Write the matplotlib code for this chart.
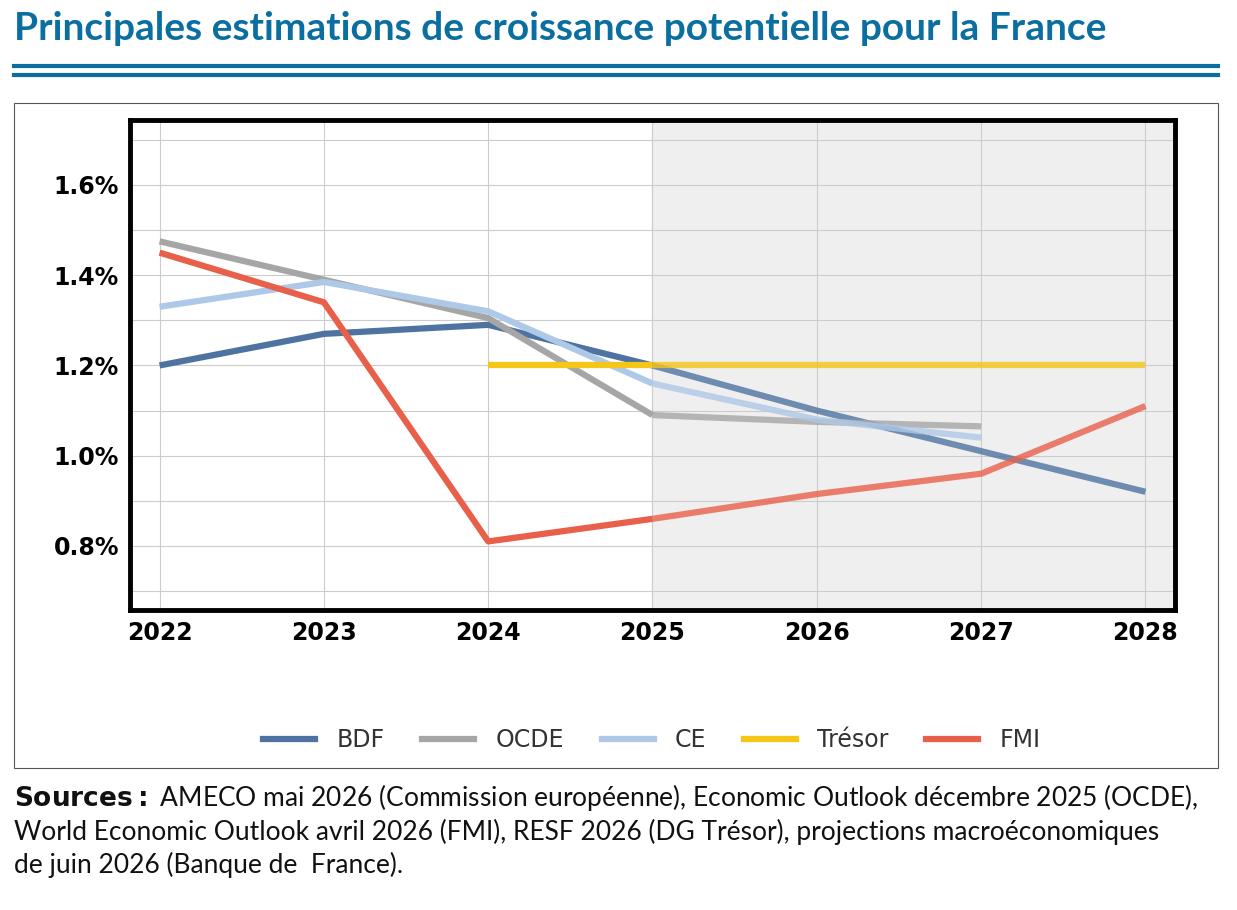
import matplotlib
matplotlib.use("Agg")
import matplotlib.pyplot as plt
from matplotlib.patches import Rectangle
from matplotlib.lines import Line2D

years = [2022, 2023, 2024, 2025, 2026, 2027, 2028]
bdf = [1.20, 1.27, 1.29, 1.20, 1.10, 1.01, 0.92]
ocde_years = [2022, 2023, 2024, 2025, 2026, 2027]
ocde = [1.475, 1.39, 1.305, 1.09, 1.075, 1.065]
ce_years = [2022, 2023, 2024, 2025, 2026, 2027]
ce = [1.33, 1.385, 1.32, 1.16, 1.08, 1.04]
tresor_years = [2024, 2025, 2026, 2027, 2028]
tresor = [1.20, 1.20, 1.20, 1.20, 1.20]
fmi = [1.45, 1.34, 0.81, 0.86, 0.915, 0.96, 1.11]
yticks = [0.8, 1.0, 1.2, 1.4, 1.6]

W, H = 1237, 910
fig = plt.figure(figsize=(W/100, H/100), dpi=100)
blue = "#0a6fa0"
fig.text(14/W, 1-28/H, "Principales estimations de croissance potentielle pour la France",
         fontsize=28, fontweight="bold", color=blue, family="Lato", va="center")
fig.add_artist(Line2D([14/W, 1218/W], [1-66/H]*2, color=blue, lw=3))
fig.add_artist(Line2D([14/W, 1218/W], [1-75/H]*2, color=blue, lw=3))
fig.add_artist(Rectangle((14/W, 1-768/H), 1204/W, 665/H, fill=False, ec="#555555", lw=0.8))

ax = fig.add_axes([130/W, 1-610/H, 1045/W, 490/H])
ax.set_xlim(2021.82, 2028.18)
ax.set_ylim(0.658, 1.744)
ax.axvspan(2025, 2028.18, color="#efefef", zorder=0)
for y in [0.7, 0.8, 0.9, 1.0, 1.1, 1.2, 1.3, 1.4, 1.5, 1.6, 1.7]:
    ax.axhline(y, color="#cccccc", lw=0.8, zorder=1)
for x in years:
    ax.axvline(x, color="#cccccc", lw=0.8, zorder=1)

series = [("BDF", years, bdf, "#4e73a0"),
          ("OCDE", ocde_years, ocde, "#a6a6a6"),
          ("CE", ce_years, ce, "#aec8e8"),
          ("Trésor", tresor_years, tresor, "#f5c518"),
          ("FMI", years, fmi, "#e8604a")]
for name, xs, ys, c in series:
    past = [(x, y) for x, y in zip(xs, ys) if x <= 2025]
    fut = [(x, y) for x, y in zip(xs, ys) if x >= 2025]
    if len(past) > 1:
        ax.plot(*zip(*past), color=c, lw=4.5, zorder=3, solid_capstyle="butt")
    if len(fut) > 1:
        ax.plot(*zip(*fut), color=c, lw=4.5, alpha=0.8, zorder=3, solid_capstyle="butt")

ax.set_xticks(years)
ax.set_xticklabels([str(y) for y in years], fontsize=17, fontweight="bold")
ax.set_yticks(yticks)
ax.set_yticklabels([f"{y:.1f}%" for y in yticks], fontsize=17, fontweight="bold")
ax.tick_params(length=0, pad=8)
for s in ax.spines.values():
    s.set_linewidth(3.5)
    s.set_color("black")

handles = [Line2D([], [], color=c, lw=4.5) for _, _, _, c in series]
fig.legend(handles, [s[0] for s in series], loc="center", bbox_to_anchor=(0.527, 1-740/H),
           ncol=5, frameon=False, fontsize=17, handlelength=2.2, columnspacing=1.6,
           handletextpad=0.9, labelcolor="#333333")

src = ("$\\bf{Sources:}$ AMECO mai 2026 (Commission européenne), Economic Outlook décembre 2025 (OCDE),\n"
       "World Economic Outlook avril 2026 (FMI), RESF 2026 (DG Trésor), projections macroéconomiques\n"
       "de juin 2026 (Banque de  France).")
fig.text(14/W, 1-782/H, src, fontsize=19, family="Lato", va="top", linespacing=1.3, color="#111111")

fig.savefig("out.png", dpi=100)
